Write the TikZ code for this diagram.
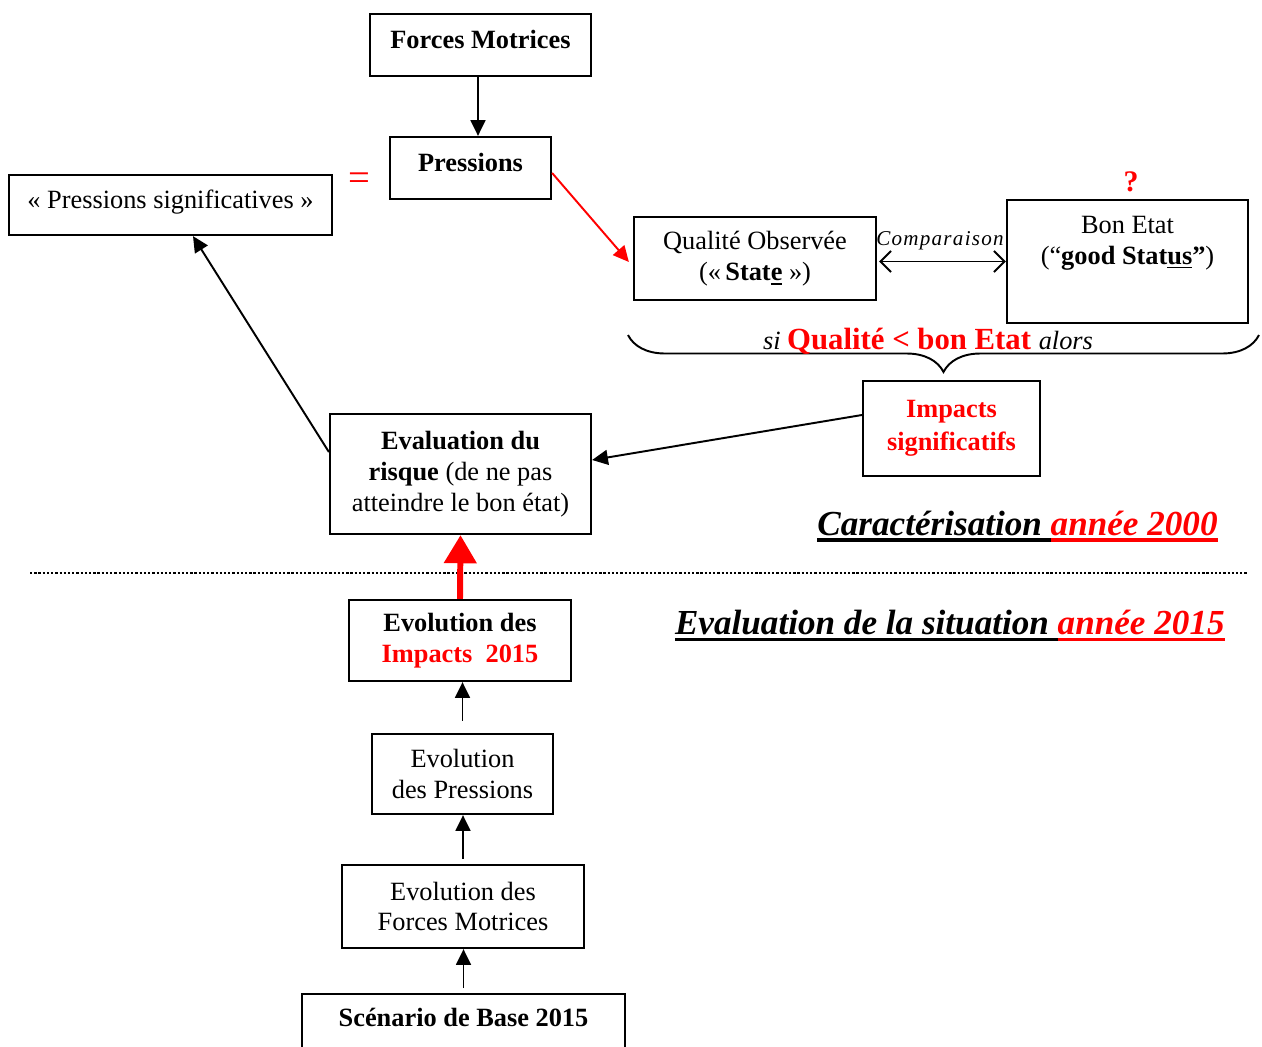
\documentclass[tikz,border=0pt]{standalone}
\usepackage{fontspec}
\setmainfont{Liberation Serif}
\usetikzlibrary{arrows.meta,decorations.pathreplacing}
% \ulmark{colour}{drop below baseline}{thickness}{text}: text with a rule under it
\newcommand\ulmark[4]{\leavevmode\setbox0\hbox{#4}\rlap{\textcolor{#1}{\rule[-#2]{\wd0}{#3}}}\box0}
\tikzset{
  box/.style={draw, line width=1.3pt, inner sep=0pt, align=center,
              font=\fontsize{15}{17.6}\selectfont},
  txt/.style={inner sep=0pt, align=center, font=\fontsize{15}{17.6}\selectfont},
  arr/.style={-{Triangle[length=9pt,width=8.5pt]}, line width=1.1pt},
  redarr/.style={arr, red},
  heading/.style={inner sep=0pt, font=\fontsize{20}{24}\selectfont\bfseries\itshape},
}
\begin{document}
\begin{tikzpicture}[x=0.02cm, y=-0.02cm]
\useasboundingbox (0,0) rectangle (1262,1046);

% --- characterisation (upper part) ---
\node[box, minimum width=4.42cm, minimum height=1.24cm, text depth=7pt] (fm) at (480.5,45) {\textbf{Forces Motrices}};
\node[box, minimum width=3.22cm, minimum height=1.24cm, text depth=7pt] (pr) at (470.5,168) {\textbf{Pressions}};
\node[box, minimum width=6.46cm, minimum height=1.2cm, text depth=7pt] (ps) at (170.5,205) {« Pressions significatives »};
\node[txt, text=red, font=\fontsize{22}{24}\selectfont] (eq) at (359,182) {=};

\node[box, minimum width=4.84cm, minimum height=1.66cm] (qo) at (755,258.5)
  {Qualité Observée\\(«\,\textbf{Stat\ulmark{black}{2.4pt}{1pt}{e}} »)};
\node[box, minimum width=4.82cm, minimum height=2.46cm] (be) at (1127.5,261.5) {};
\node[txt] (bet) at (1127.5,243) {Bon Etat\\(“\textbf{good Stat\ulmark{black}{2.4pt}{1pt}{us}”})};
\node[txt, text=red, font=\fontsize{17}{20}\selectfont\bfseries] (qm) at (1131,182) {?};

\node[inner sep=0pt, font=\fontsize{12}{14}\selectfont\itshape\addfontfeature{LetterSpace=6}] (cmp) at (940,241) {Comparaison};
\draw[<->, >={Straight Barb[length=6pt,width=12pt]}, line width=1.1pt] ([xshift=0.04cm]qo.east |- be.west) -- (be.west);

\draw[redarr] ([yshift=-0.1cm]pr.east) -- ([xshift=-0.08cm,yshift=-0.07cm]qo.west);
\draw[arr] ([xshift=-0.05cm]fm.south) -- ([xshift=-0.05cm]fm.south |- pr.north);

% brace under the comparison
\coordinate (brl) at (628,335);
\coordinate (brr) at (1259,335);
\draw[decorate, decoration={brace, mirror, amplitude=0.74cm}, line width=1.1pt] (brl) -- (brr);
\node[inner sep=0pt, anchor=base] (bt) at (928,349)
  {\fontsize{15}{18}\selectfont\itshape si \fontsize{17.5}{20}\selectfont\upshape\bfseries\color{red}Qualité < bon Etat \fontsize{15}{18}\selectfont\mdseries\itshape\color{black}alors};

\node[box, minimum width=3.54cm, minimum height=1.9cm, text=red, font=\fontsize{15}{19}\selectfont\bfseries] (imp) at (951.5,428.5) {Impacts\\significatifs};
\node[box, minimum width=5.22cm, minimum height=2.4cm] (ev) at (460.5,474)
  {\textbf{Evaluation du}\\\textbf{risque} (de ne pas\\atteindre le bon état)};

\draw[arr] ([yshift=0.27cm]imp.west) -- ([yshift=0.28cm]ev.east);
\draw[arr] ([yshift=0.44cm]ev.west) -- ([xshift=0.45cm]ps.south);

\node[heading, anchor=base east] (cap1) at (1218,535)
  {\ulmark{black}{4.2pt}{2.6pt}{Caractérisation }\ulmark{red}{4.2pt}{2.6pt}{\color{red}année 2000}};

% separation line
\coordinate (dl) at (30,573);
\coordinate (dr) at (1247,573);
\draw[line width=1.3pt, dash pattern=on 1.3pt off 1.1pt] (dl) -- (dr);

% --- 2015 situation (lower part) ---
\node[heading, anchor=base east] (cap2) at (1225,634)
  {\ulmark{black}{4.2pt}{1.8pt}{Evaluation de la situation }\ulmark{red}{4.2pt}{1.8pt}{\color{red}année 2015}};

\node[box, minimum width=4.44cm, minimum height=1.62cm] (ei) at (460,640.5)
  {\textbf{Evolution des}\\\textbf{\color{red}Impacts~~2015}};
\node[box, minimum width=3.62cm, minimum height=1.6cm] (ep) at (462.5,774) {Evolution\\des Pressions};
\node[box, minimum width=4.84cm, minimum height=1.66cm] (ef) at (463,906.5) {Evolution des\\Forces Motrices};
\node[box, minimum width=6.46cm, minimum height=1.6cm, anchor=north] (sb) at (463.5,993) {};
\node[txt] (sbt) at (463.5,1017) {\textbf{Scénario de Base 2015}};

\draw[-{Triangle[length=16pt,width=18pt]}, red, line width=3.4pt] (ei.north) -- (ev.south);
\draw[arr] ([yshift=0.24cm]ep.north) -- (ep.north |- ei.south);
\draw[arr] ([yshift=0.1cm]ef.north) -- (ef.north |- ep.south);
\draw[arr] ([yshift=0.1cm]sb.north) -- (sb.north |- ef.south);
\end{tikzpicture}
\end{document}
